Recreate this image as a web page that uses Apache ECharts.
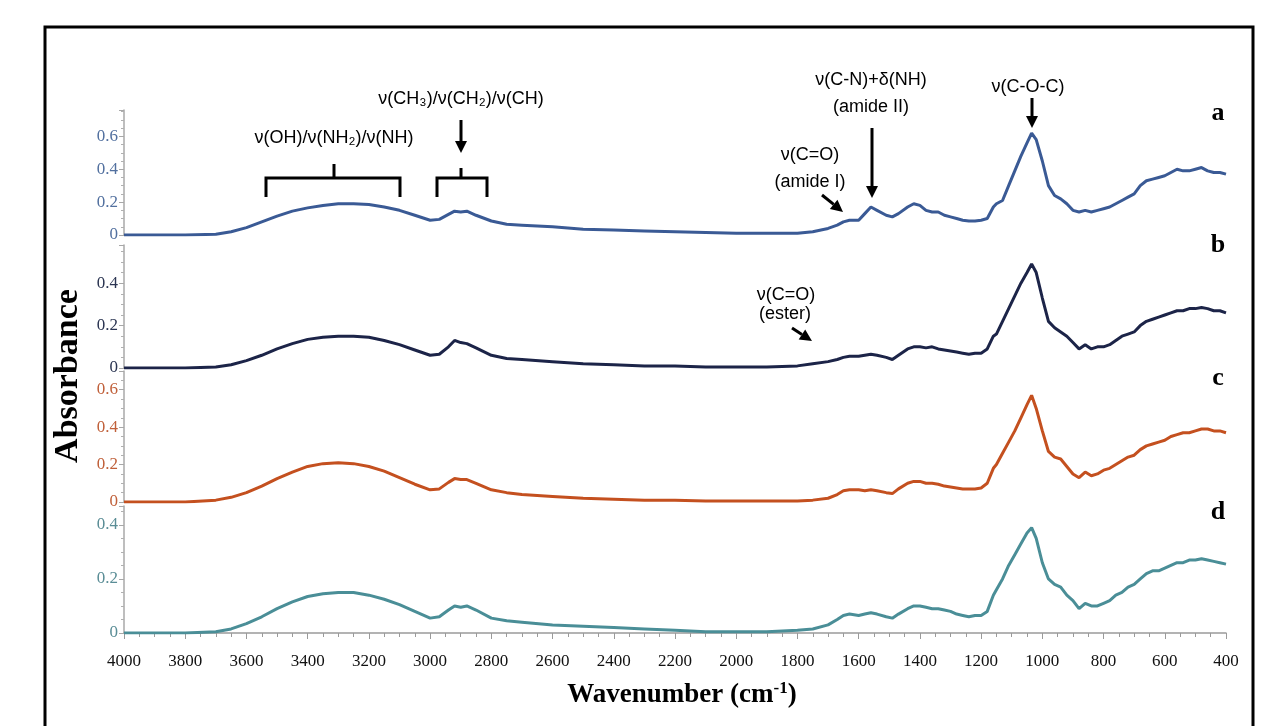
<!DOCTYPE html>
<html><head><meta charset="utf-8">
<script src="https://cdn.jsdelivr.net/npm/echarts@6/dist/echarts.min.js"></script>
<style>html,body{margin:0;padding:0;background:#fff}#c{width:1278px;height:726px}</style>
</head><body><div id="c"></div>
<script>
const wavenumbers = [4000,3900,3800,3700,3650,3600,3550,3500,3450,3400,
3350,3300,3250,3200,3150,3100,3050,3000,2970,2940,
2920,2900,2880,2850,2800,2750,2700,2600,2500,2400,
2300,2200,2100,2000,1900,1800,1750,1700,1670,1650,
1630,1600,1580,1560,1540,1510,1490,1470,1440,1420,
1400,1380,1360,1340,1320,1300,1280,1260,1240,1220,
1200,1180,1160,1150,1130,1110,1090,1070,1050,1035,
1020,1000,980,960,940,920,900,880,860,840,
820,800,780,760,740,720,700,680,660,640,
620,600,580,560,540,520,500,480,460,440,
420,400];
const seriesA = [0,0,0,0.005,0.02,0.045,0.08,0.115,0.145,0.165,
0.18,0.19,0.19,0.185,0.17,0.15,0.12,0.09,0.095,0.125,
0.145,0.14,0.145,0.12,0.085,0.065,0.06,0.05,0.035,0.03,
0.025,0.02,0.015,0.01,0.01,0.01,0.02,0.04,0.06,0.08,
0.09,0.09,0.13,0.17,0.15,0.12,0.11,0.13,0.17,0.19,
0.18,0.15,0.14,0.14,0.12,0.11,0.1,0.09,0.085,0.085,
0.09,0.1,0.17,0.19,0.21,0.3,0.39,0.48,0.56,0.62,
0.58,0.45,0.3,0.24,0.22,0.19,0.15,0.14,0.15,0.14,
0.15,0.16,0.17,0.19,0.21,0.23,0.25,0.3,0.33,0.34,
0.35,0.36,0.38,0.4,0.39,0.39,0.4,0.41,0.39,0.38,
0.38,0.37];
const seriesB = [0,0,0,0.005,0.015,0.035,0.06,0.09,0.115,0.135,
0.145,0.15,0.15,0.145,0.13,0.11,0.085,0.06,0.065,0.1,
0.13,0.12,0.115,0.095,0.06,0.045,0.04,0.03,0.02,0.015,
0.01,0.01,0.005,0.005,0.005,0.01,0.02,0.03,0.04,0.05,
0.055,0.055,0.06,0.065,0.06,0.05,0.04,0.06,0.09,0.1,
0.1,0.095,0.1,0.09,0.085,0.08,0.075,0.07,0.065,0.07,
0.07,0.09,0.15,0.16,0.22,0.28,0.34,0.4,0.45,0.49,
0.45,0.33,0.22,0.19,0.17,0.15,0.12,0.09,0.11,0.09,
0.1,0.1,0.11,0.13,0.15,0.16,0.17,0.2,0.22,0.23,
0.24,0.25,0.26,0.27,0.27,0.28,0.28,0.285,0.28,0.27,
0.27,0.26];
const seriesC = [0,0,0,0.01,0.025,0.05,0.085,0.125,0.16,0.19,
0.205,0.21,0.205,0.19,0.165,0.13,0.095,0.065,0.07,0.105,
0.125,0.12,0.12,0.1,0.065,0.05,0.04,0.03,0.02,0.015,
0.01,0.01,0.005,0.005,0.005,0.005,0.01,0.02,0.04,0.06,
0.065,0.065,0.06,0.065,0.06,0.05,0.045,0.07,0.1,0.11,
0.11,0.1,0.1,0.095,0.085,0.08,0.075,0.07,0.07,0.07,
0.075,0.1,0.18,0.2,0.26,0.32,0.38,0.45,0.52,0.57,
0.5,0.38,0.27,0.24,0.23,0.19,0.15,0.13,0.16,0.14,
0.15,0.17,0.18,0.2,0.22,0.24,0.25,0.28,0.3,0.31,
0.32,0.33,0.35,0.36,0.37,0.37,0.38,0.39,0.39,0.38,
0.38,0.37];
const seriesD = [0,0,0,0.005,0.015,0.035,0.06,0.09,0.115,0.135,
0.145,0.15,0.15,0.14,0.125,0.105,0.08,0.055,0.06,0.085,
0.1,0.095,0.1,0.085,0.055,0.045,0.04,0.03,0.025,0.02,
0.015,0.01,0.005,0.005,0.005,0.01,0.015,0.03,0.05,0.065,
0.07,0.065,0.07,0.075,0.07,0.06,0.055,0.07,0.09,0.1,
0.1,0.095,0.09,0.09,0.085,0.08,0.07,0.065,0.06,0.065,
0.065,0.08,0.14,0.16,0.2,0.25,0.29,0.33,0.37,0.39,
0.35,0.26,0.2,0.18,0.17,0.14,0.12,0.09,0.11,0.1,
0.1,0.11,0.12,0.14,0.15,0.17,0.18,0.2,0.22,0.23,
0.23,0.24,0.25,0.26,0.26,0.27,0.27,0.275,0.27,0.265,
0.26,0.255];
const panelNames = ['a','b','c','d'];
const yMax = [0.76, 0.58, 0.70, 0.47];
const xTicks = {min: 400, max: 4000, interval: 200};

const lineColors = ['#3a5a95','#1c2448','#c4501f','#4a8e97'];
const labelColors = ['#52709f','#2b3552','#c0603a','#5a8d96'];
const grids = [
  {left:124, right:52, top:110, height:125},
  {left:124, right:52, top:245, height:123},
  {left:124, right:52, top:371, height:131},
  {left:124, right:52, top:506, height:127}
];
const allSeries = [seriesA, seriesB, seriesC, seriesD];

const chart = echarts.init(document.getElementById('c'), null, {renderer:'canvas'});

const xAxes = grids.map((g,i)=>({
  type:'value', gridIndex:i, inverse:true, min:xTicks.min, max:xTicks.max, interval:xTicks.interval,
  show: i===3,
  axisLine:{show:i===3, lineStyle:{color:'#9a9a9a', width:1.5}},
  axisTick:{show:i===3, length:6, lineStyle:{color:'#9a9a9a'}},
  minorTick:{show:i===3, splitNumber:4, length:4, lineStyle:{color:'#9a9a9a'}},
  splitLine:{show:false},
  axisLabel:{show:i===3, color:'#111', fontFamily:'Liberation Serif', fontSize:17, margin:20, formatter: v => String(v)}
}));
const yAxes = grids.map((g,i)=>({
  type:'value', gridIndex:i, min:0, max:yMax[i], interval:0.2,
  axisLine:{show:true, lineStyle:{color:'#a8a8a8', width:1.5}},
  axisTick:{show:true, length:5, lineStyle:{color:'#a8a8a8'}},
  minorTick:{show:true, splitNumber:4, length:3, lineStyle:{color:'#b0b0b0'}},
  splitLine:{show:false},
  axisLabel:{color:labelColors[i], fontFamily:'Liberation Serif', fontSize:17, margin:6,
    formatter: v => { const r = Math.round(v*10)/10; if (Math.abs(v - Math.round(v/0.2)*0.2) > 1e-6) return ''; return r===0?'0':String(r); }}
}));
const series = allSeries.map((vals,i)=>({
  type:'line', xAxisIndex:i, yAxisIndex:i, showSymbol:false, silent:true,
  data: wavenumbers.map((w,j)=>[w, vals[j]]),
  lineStyle:{color:lineColors[i], width:3}, itemStyle:{color:lineColors[i]}
}));

function arrow(x1,y1,x2,y2){
  const dx=x2-x1, dy=y2-y1, L=Math.hypot(dx,dy), ux=dx/L, uy=dy/L, h=12, w=6;
  const bx=x2-ux*h, by=y2-uy*h;
  return [
    {type:'line', shape:{x1:x1,y1:y1,x2:bx,y2:by}, style:{stroke:'#000', lineWidth:3}},
    {type:'polygon', shape:{points:[[x2,y2],[bx-uy*w,by+ux*w],[bx+uy*w,by-ux*w]]}, style:{fill:'#000'}}
  ];
}
function bracket(x1,x2,y,leg,xm,nub){
  return [
    {type:'polyline', shape:{points:[[x1,y+leg],[x1,y],[x2,y],[x2,y+leg]]}, style:{stroke:'#000', lineWidth:3, fill:null}},
    {type:'line', shape:{x1:xm,y1:y,x2:xm,y2:y-nub}, style:{stroke:'#000', lineWidth:3}}
  ];
}
const annFont = '18px "Liberation Sans", Arial, sans-serif';
function txt(t,x,y){ return {type:'text', style:{text:t, x:x, y:y, font:annFont, fill:'#000', textAlign:'center', textVerticalAlign:'middle'}}; }

const graphics = [
  {type:'rect', shape:{x:45,y:27,width:1208,height:730}, style:{fill:'none', stroke:'#000', lineWidth:3}},
  txt('ν(OH)/ν(NH₂)/ν(NH)', 334, 138),
  ...bracket(266,400,178,19,334,14),
  txt('ν(CH₃)/ν(CH₂)/ν(CH)', 461, 99),
  ...arrow(461,120,461,153),
  ...bracket(437,487,178,19,461,10),
  txt('ν(C=O)', 810, 155),
  txt('(amide I)', 810, 182),
  ...arrow(822,195,843,212),
  txt('ν(C-N)+δ(NH)', 871, 80),
  txt('(amide II)', 871, 107),
  ...arrow(872,128,872,198),
  txt('ν(C-O-C)', 1028, 87),
  ...arrow(1032,98,1032,128),
  txt('ν(C=O)', 786, 295),
  txt('(ester)', 785, 314),
  ...arrow(792,328,812,341),
  {type:'text', rotation:Math.PI/2, x:68, y:376, style:{text:'Absorbance', x:0, y:0, font:'bold 34px "Liberation Serif", serif', fill:'#000', textAlign:'center', textVerticalAlign:'middle'}},
  {type:'text', style:{x:682, y:695, textAlign:'center', textVerticalAlign:'middle',
    text:'{m|Wavenumber (cm}{s|-1}{m|)}',
    rich:{m:{font:'bold 27px "Liberation Serif", serif', fill:'#000'}, s:{font:'bold 17px "Liberation Serif", serif', fill:'#000', padding:[0,0,12,0]}}}},
];
const panelY = [113, 245, 378, 512];
panelNames.forEach((n,i)=>graphics.push({type:'text', style:{text:n, x:1218, y:panelY[i], font:'bold 26px "Liberation Serif", serif', fill:'#000', textAlign:'center', textVerticalAlign:'middle'}}));

chart.setOption({
  animation:false,
  backgroundColor:'#fff',
  grid: grids,
  xAxis: xAxes,
  yAxis: yAxes,
  series: series,
  graphic: graphics
});
</script></body></html>
